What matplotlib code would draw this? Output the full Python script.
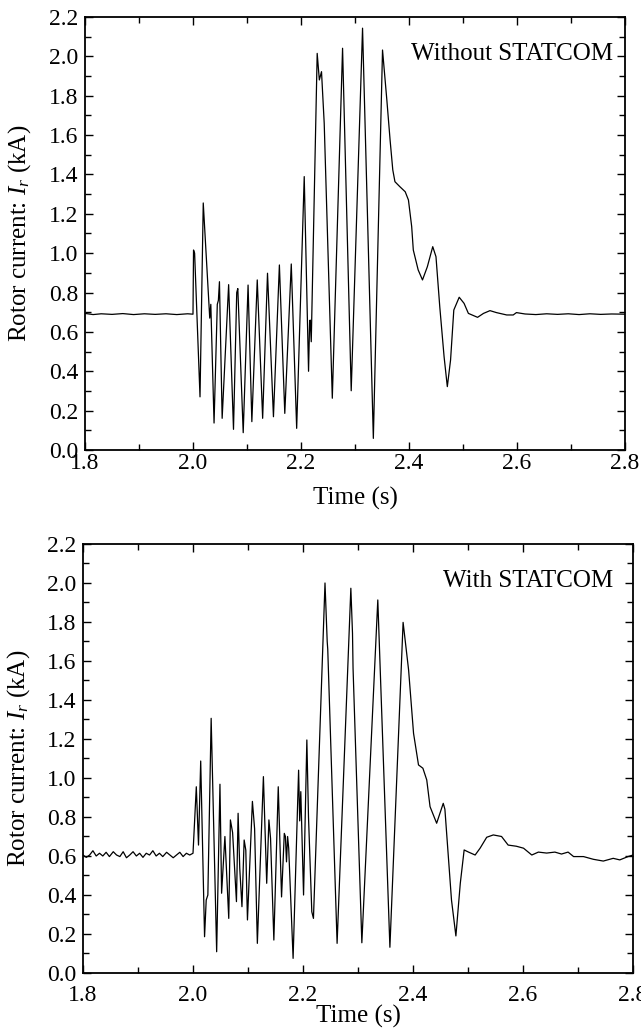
import numpy as np
import matplotlib
matplotlib.use('Agg')
from matplotlib import pyplot as plt
from matplotlib.ticker import MultipleLocator

plt.rcParams['font.family'] = 'Liberation Serif'
plt.rcParams['mathtext.fontset'] = 'custom'
plt.rcParams['mathtext.rm'] = 'Liberation Serif'
plt.rcParams['mathtext.it'] = 'Liberation Serif:italic'

# rotor current without STATCOM (time s, current kA)
t_without = [1.800, 1.815, 1.830, 1.850, 1.870, 1.890, 1.910, 1.930, 1.950, 1.970, 1.990, 2.000,
             2.001, 2.003, 2.013, 2.019, 2.031, 2.033, 2.039, 2.045, 2.047, 2.049,
             2.054, 2.066, 2.075, 2.081, 2.083, 2.093, 2.102, 2.109, 2.119, 2.129,
             2.138, 2.149, 2.160, 2.170, 2.182, 2.192, 2.206, 2.214, 2.216, 2.217,
             2.219, 2.230, 2.234, 2.238, 2.243, 2.258, 2.277, 2.293, 2.314, 2.334,
             2.351, 2.359, 2.365, 2.370, 2.374, 2.383, 2.393, 2.399, 2.405, 2.408,
             2.417, 2.425, 2.434, 2.444, 2.450, 2.457, 2.465, 2.471, 2.477, 2.483,
             2.493, 2.502, 2.510, 2.527, 2.538, 2.550, 2.562, 2.581, 2.593, 2.599,
             2.615, 2.635, 2.655, 2.675, 2.695, 2.715, 2.735, 2.755, 2.775, 2.800]
i_without = [0.694, 0.688, 0.692, 0.689, 0.693, 0.688, 0.692, 0.689, 0.692, 0.688, 0.692, 0.690,
             1.016, 1.000, 0.270, 1.255, 0.670, 0.740, 0.137, 0.740, 0.760, 0.855,
             0.161, 0.840, 0.105, 0.800, 0.820, 0.088, 0.838, 0.144, 0.864, 0.161,
             0.898, 0.169, 0.940, 0.186, 0.945, 0.110, 1.389, 0.400, 0.652, 0.660,
             0.550, 2.015, 1.880, 1.922, 1.660, 0.263, 2.041, 0.301, 2.143, 0.059,
             2.032, 1.778, 1.575, 1.423, 1.363, 1.338, 1.312, 1.270, 1.135, 1.016,
             0.915, 0.864, 0.931, 1.033, 0.982, 0.728, 0.474, 0.322, 0.457, 0.711,
             0.776, 0.745, 0.694, 0.674, 0.694, 0.708, 0.698, 0.686, 0.686, 0.698,
             0.691, 0.688, 0.692, 0.689, 0.692, 0.688, 0.692, 0.689, 0.691, 0.690]

# rotor current with STATCOM
t_with = [1.800, 1.806, 1.812, 1.818, 1.824, 1.830, 1.836, 1.842, 1.848, 1.855, 1.861, 1.867,
          1.873, 1.879, 1.885, 1.891, 1.897, 1.903, 1.909, 1.915, 1.921, 1.927, 1.933,
          1.939, 1.945, 1.952, 1.958, 1.964, 1.970, 1.976, 1.982, 1.988, 1.994, 2.000,
          2.006, 2.010, 2.014, 2.021, 2.024, 2.027, 2.033, 2.043, 2.049, 2.052,
          2.058, 2.065, 2.068, 2.072, 2.079, 2.082, 2.085, 2.089, 2.093, 2.096, 2.099,
          2.108, 2.112, 2.117, 2.128, 2.134, 2.138, 2.141, 2.147, 2.155, 2.161, 2.166,
          2.168, 2.170, 2.172, 2.174, 2.182, 2.192, 2.194, 2.196, 2.201, 2.207, 2.210,
          2.216, 2.219, 2.240, 2.244, 2.245, 2.262, 2.287, 2.290, 2.291, 2.307,
          2.336, 2.358, 2.382, 2.392, 2.401, 2.410, 2.418, 2.425, 2.431, 2.443,
          2.455, 2.458, 2.470, 2.478, 2.486, 2.493, 2.501, 2.513, 2.522, 2.534,
          2.546, 2.561, 2.573, 2.588, 2.601, 2.616, 2.628, 2.643, 2.658, 2.670,
          2.682, 2.692, 2.710, 2.728, 2.746, 2.764, 2.776, 2.791, 2.800]
i_with = [0.605, 0.593, 0.605, 0.627, 0.600, 0.614, 0.600, 0.619, 0.597, 0.622, 0.605, 0.597,
          0.622, 0.591, 0.605, 0.622, 0.600, 0.614, 0.593, 0.614, 0.605, 0.627, 0.600,
          0.614, 0.597, 0.619, 0.605, 0.591, 0.605, 0.619, 0.597, 0.614, 0.605, 0.614,
          0.955, 0.656, 1.087, 0.186, 0.374, 0.400, 1.306, 0.109, 0.968, 0.409,
          0.700, 0.280, 0.785, 0.720, 0.366, 0.819, 0.537, 0.340, 0.682, 0.630, 0.272,
          0.880, 0.740, 0.152, 1.007, 0.460, 0.785, 0.690, 0.169, 0.955, 0.390, 0.716,
          0.700, 0.570, 0.700, 0.640, 0.075, 1.040, 0.780, 0.930, 0.400, 1.195, 0.800,
          0.314, 0.280, 2.000, 1.700, 1.660, 0.152, 1.973, 1.742, 1.563, 0.155,
          1.913, 0.132, 1.798, 1.554, 1.229, 1.067, 1.050, 0.990, 0.853, 0.768,
          0.870, 0.840, 0.374, 0.190, 0.460, 0.631, 0.620, 0.605, 0.640, 0.696,
          0.708, 0.700, 0.656, 0.650, 0.640, 0.605, 0.620, 0.615, 0.620, 0.610,
          0.620, 0.597, 0.597, 0.583, 0.574, 0.588, 0.580, 0.597, 0.605]

# (data, note, axes rect, note x, x tick pad, xlabel y, ylabel x)
panels = [
    (t_without, i_without, 'Without STATCOM', [0.1326, 0.5648, 0.8424, 0.4188], 0.978,
     2.5, -0.085, -0.097),
    (t_with, i_with, 'With STATCOM', [0.1295, 0.0590, 0.8580, 0.4149], 0.9636,
     9.0, -0.075, -0.092),
]

fig = plt.figure(figsize=(6.41, 10.34), dpi=100)

for t, cur, note, rect, note_x, xpad, xl_y, yl_x in panels:
    ax = fig.add_axes(rect)
    ax.plot(t, cur, color='black', lw=0.9)
    ax.set_xlim(1.8, 2.8)
    ax.set_ylim(0.0, 2.2)
    ax.xaxis.set_major_locator(MultipleLocator(0.2))
    ax.xaxis.set_minor_locator(MultipleLocator(0.1))
    ax.yaxis.set_major_locator(MultipleLocator(0.2))
    ax.yaxis.set_minor_locator(MultipleLocator(0.1))
    ax.xaxis.set_major_formatter(plt.FuncFormatter(lambda v, p: '%.1f' % v))
    ax.yaxis.set_major_formatter(plt.FuncFormatter(lambda v, p: '%.1f' % v))
    ax.tick_params(which='both', direction='in', top=True, right=True,
                   labeltop=False, labelright=False, width=1.0, labelsize=17)
    ax.tick_params(which='major', length=6)
    ax.tick_params(which='minor', length=4)
    ax.tick_params(axis='x', pad=xpad)
    ax.tick_params(axis='y', pad=5)
    for s in ax.spines.values():
        s.set_linewidth(1.3)
    ax.set_xlabel('Time (s)', fontsize=18)
    ax.set_ylabel(r'Rotor current: $I_r$ (kA)', fontsize=18)
    ax.xaxis.set_label_coords(0.5, xl_y)
    ax.yaxis.set_label_coords(yl_x, 0.5)
    ax.text(note_x, 0.90, note, transform=ax.transAxes, ha='right', va='baseline',
            fontsize=18)

fig.savefig('out.png', dpi=100)
